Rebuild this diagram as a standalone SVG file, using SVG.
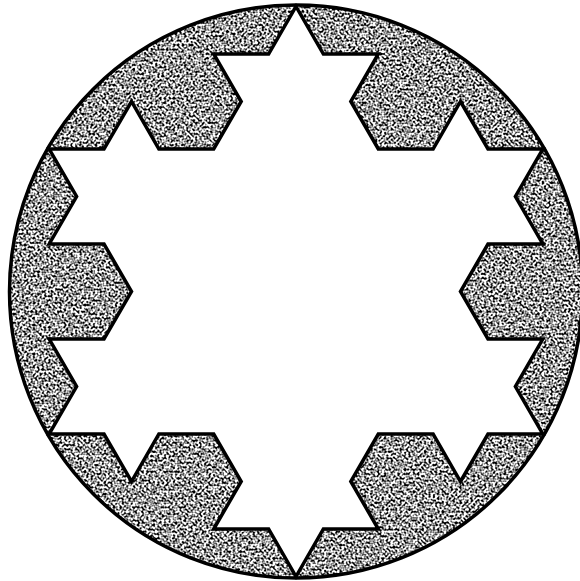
<svg xmlns="http://www.w3.org/2000/svg" width="580" height="581" viewBox="0 0 580 581">
<defs>
<filter id="tex" filterUnits="userSpaceOnUse" x="0" y="0" width="580" height="581" color-interpolation-filters="sRGB">
<feTurbulence type="fractalNoise" baseFrequency="0.45" numOctaves="1" seed="7" result="n"/>
<feColorMatrix in="n" type="matrix" values="3.4 0 0 0 -1.1  3.4 0 0 0 -1.1  3.4 0 0 0 -1.1  0 0 0 0 1" result="g"/>
<feComposite in="g" in2="SourceGraphic" operator="in"/>
</filter>
<style>
.edge{fill:none;stroke:#000;stroke-width:3.5;stroke-linejoin:miter}
</style>
</defs>
<rect width="580" height="581" fill="#fff"/>
<g id="shaded" filter="url(#tex)">
<path fill="#888" fill-rule="evenodd" d="M9.5,291.5 a286.5,286.5 0 1,0 573,0 a286.5,286.5 0 1,0 -573,0 Z M296,6.5 L323.4,54 L378.3,54 L350.8,101.5 L378.3,149 L433.1,149 L460.5,101.5 L488,149 L542.8,149 L515.4,196.5 L542.8,244 L488,244 L460.5,291.5 L488,339 L542.8,339 L515.4,386.5 L542.8,434 L488,434 L460.5,481.5 L433.1,434 L378.3,434 L350.8,481.5 L378.3,529 L323.4,529 L296,576.5 L268.6,529 L213.7,529 L241.2,481.5 L213.7,434 L158.9,434 L131.5,481.5 L104,434 L49.2,434 L76.6,386.5 L49.2,339 L104,339 L131.5,291.5 L104,244 L49.2,244 L76.6,196.5 L49.2,149 L104,149 L131.5,101.5 L158.9,149 L213.7,149 L241.2,101.5 L213.7,54 L268.6,54 Z"/>
</g>
<circle id="circle" class="edge" cx="296" cy="291.5" r="286.5"/>
<polygon id="snowflake" class="edge" points="296,6.5 323.4,54 378.3,54 350.8,101.5 378.3,149 433.1,149 460.5,101.5 488,149 542.8,149 515.4,196.5 542.8,244 488,244 460.5,291.5 488,339 542.8,339 515.4,386.5 542.8,434 488,434 460.5,481.5 433.1,434 378.3,434 350.8,481.5 378.3,529 323.4,529 296,576.5 268.6,529 213.7,529 241.2,481.5 213.7,434 158.9,434 131.5,481.5 104,434 49.2,434 76.6,386.5 49.2,339 104,339 131.5,291.5 104,244 49.2,244 76.6,196.5 49.2,149 104,149 131.5,101.5 158.9,149 213.7,149 241.2,101.5 213.7,54 268.6,54"/>
</svg>
